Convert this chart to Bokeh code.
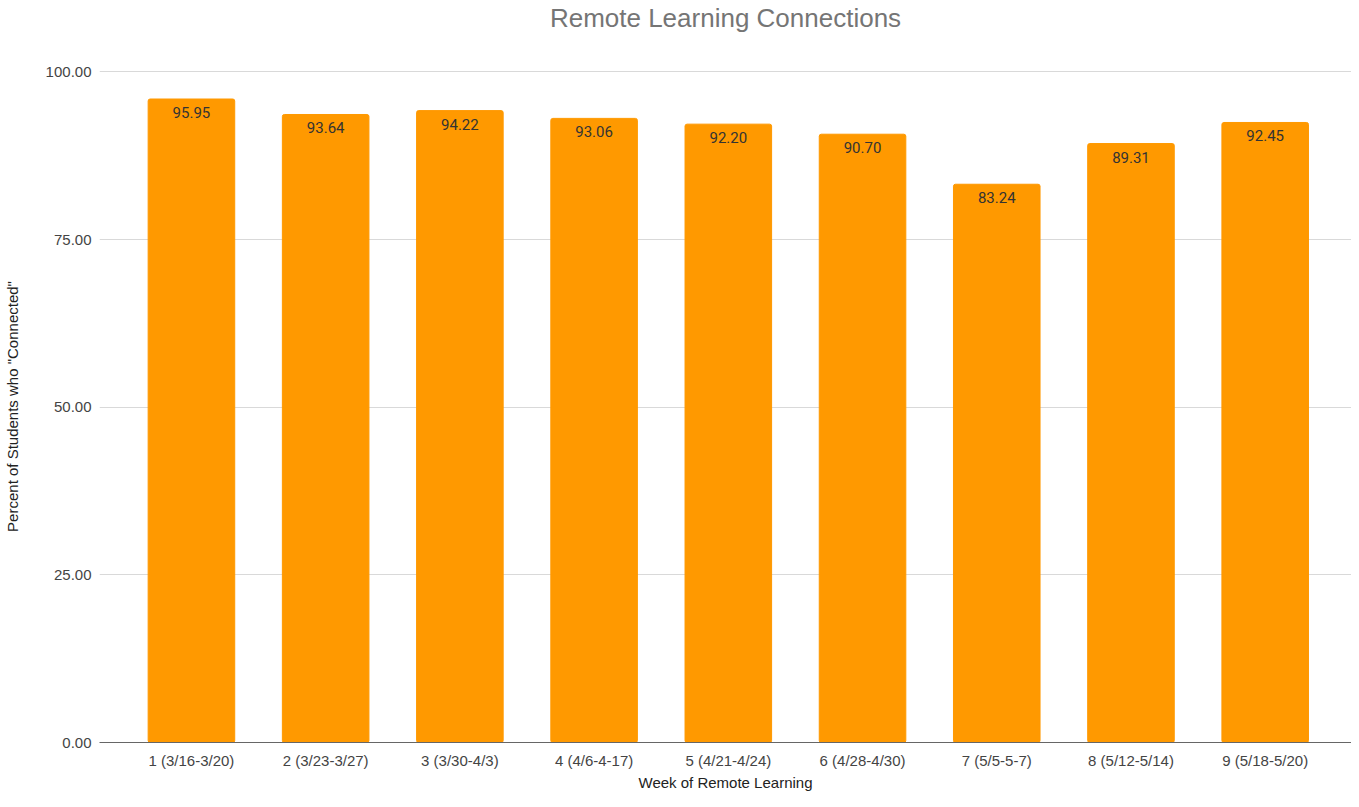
from bokeh.plotting import figure
from bokeh.models import ColumnDataSource, FixedTicker, NumeralTickFormatter, LabelSet, Title, Range1d
from bokeh.core.properties import value
from bokeh.embed import file_html
from bokeh.resources import INLINE

title_text = "Remote Learning Connections"
x_title = "Week of Remote Learning"
y_title = 'Percent of Students who "Connected"'
weeks = ["1 (3/16-3/20)", "2 (3/23-3/27)", "3 (3/30-4/3)", "4 (4/6-4-17)", "5 (4/21-4/24)",
         "6 (4/28-4/30)", "7 (5/5-5-7)", "8 (5/12-5/14)", "9 (5/18-5/20)"]
connected = [95.95, 93.64, 94.22, 93.06, 92.20, 90.70, 83.24, 89.31, 92.45]
y_ticks = [0, 25, 50, 75, 100]

xs = list(range(1, len(weeks) + 1))
src = ColumnDataSource(dict(x=xs, y=connected, lbl=[f"{v:.2f}" for v in connected]))

p = figure(width=1351, height=791, output_backend="svg", toolbar_location=None,
           x_range=Range1d(0.315, 9.643), y_range=Range1d(0, 100.2), title=None,
           min_border_left=94, min_border_right=0, min_border_bottom=0, min_border_top=0)

# spacer between frame and the chart title
p.add_layout(Title(text=" ", text_font_size="2px", standoff=34), "above")
p.add_layout(Title(text=title_text, align="center", offset=-46, standoff=0,
                   text_font="Liberation Sans", text_font_size="26px",
                   text_font_style="normal", text_color="#757575"), "above")

p.vbar(x="x", top="y", width=0.645, source=src, color="#FF9900", border_radius=2)

labels = LabelSet(x="x", y="y", text="lbl", source=src, text_align="center",
                  text_baseline="top", y_offset=-8, text_font=value("Roboto"),
                  text_font_size=value("15px"), text_color=value("#333333"))
p.add_layout(labels)

p.xaxis.ticker = FixedTicker(ticks=xs)
p.xaxis.major_label_overrides = {x: w for x, w in zip(xs, weeks)}
p.yaxis.ticker = FixedTicker(ticks=y_ticks)
p.yaxis.formatter = NumeralTickFormatter(format="0.00")

for ax in (p.xaxis, p.yaxis):
    ax.major_tick_line_color = None
    ax.minor_tick_line_color = None
    ax.major_tick_out = 0
    ax.minor_tick_out = 0
    ax.major_label_text_font = "Liberation Sans"
    ax.major_label_text_font_size = "15px"
    ax.major_label_text_color = "#444444"
    ax.axis_label_text_font = "Liberation Sans"
    ax.axis_label_text_font_size = "15px"
    ax.axis_label_text_font_style = "normal"
    ax.axis_label_text_color = "#222222"

# x axis title as a bottom title
p.add_layout(Title(text=x_title, align="center", standoff=1, vertical_align="bottom",
                   text_font="Liberation Sans", text_font_size="15px",
                   text_font_style="normal", text_color="#222222"), "below")

p.yaxis.axis_label = y_title
p.xaxis.axis_line_color = "#666666"
p.yaxis.axis_line_color = None
p.xaxis.major_label_standoff = 9
p.yaxis.major_label_standoff = 8
p.yaxis.axis_label_standoff = 22

p.xgrid.grid_line_color = None
p.ygrid.grid_line_color = "#d9d9d9"
p.ygrid.ticker = FixedTicker(ticks=y_ticks[1:])
p.outline_line_color = None

open("out.html", "w").write(file_html(p, INLINE))
